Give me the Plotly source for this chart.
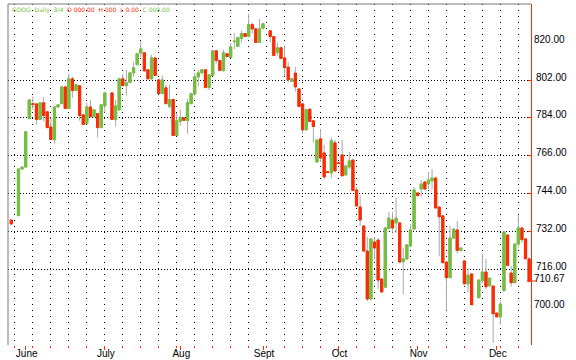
import pandas as pd
import plotly.graph_objects as go

# ---------------- data ----------------
HOLIDAYS = ["2006-05-29", "2006-07-04", "2006-09-04", "2006-11-23"]
session_days = [d for d in pd.bdate_range("2006-05-26", "2006-12-14")
                if d.strftime("%Y-%m-%d") not in HOLIDAYS]
dates = [d + pd.Timedelta(hours=12) for d in session_days]

open_ = [738.4, 740.4, 761.6, 762.5, 784.5, 791.3, 791.2, 784.1, 791.7, 787.6,
         780.7, 775.0, 789.8, 791.3, 798.9, 789.1, 802.6, 797.3, 799.4, 786.2,
         782.3, 789.8, 785.4, 786.8, 780.4, 790.4,
         796.2, 784.1, 788.5, 802.6, 799.5, 800.9, 805.3, 809.0, 814.3, 814.4,
         806.7, 802.6, 812.1, 802.1, 795.9, 798.5, 790.0, 793.2, 776.8, 783.2,
         784.8, 783.6, 791.3, 795.8, 803.5, 805.3, 806.7, 798.6, 804.1, 815.3,
         810.9, 806.4, 814.0, 812.3, 819.5, 817.3, 820.9, 823.2, 821.8, 827.3,
         825.3, 819.1, 825.5,
         824.4, 821.8, 814.6, 816.7, 812.1, 807.9, 801.4, 805.2, 798.0, 791.2,
         779.4, 788.8, 783.5, 764.8, 775.3, 768.9, 760.4, 759.8, 773.5, 764.4,
         768.0, 758.9, 762.5, 765.7, 752.1, 744.3, 735.7, 724.3, 702.5, 728.4,
         729.3, 711.6, 707.9, 734.5, 738.4, 737.1, 737.1, 719.5, 720.7, 726.6,
         734.3, 750.7, 752.5, 755.7, 754.8, 756.2, 757.5, 744.3, 740.3, 719.3,
         712.2, 730.2, 733.9, 724.5, 719.8, 709.4, 713.9,
         703.1, 711.0, 714.8, 708.5, 708.4, 696.1, 694.4, 706.3, 731.6, 714.3,
         709.9, 727.5, 734.8, 729.8, 720.7]
high = [738.6, 761.8, 762.7, 778.7, 793.2, 794.5, 791.4, 791.9, 794.3, 787.8,
        784.7, 790.0, 791.0, 799.1, 799.1, 804.9, 803.6, 800.1, 799.6, 786.4,
        791.8, 793.0, 788.7, 787.0, 791.0, 796.4,
        796.4, 793.0, 802.8, 804.9, 806.7, 805.5, 810.3, 814.2, 819.7, 814.6,
        806.9, 813.5, 812.3, 802.3, 804.1, 799.9, 799.9, 793.4, 787.1, 788.5,
        785.0, 793.5, 796.0, 805.3, 806.7, 806.9, 806.9, 804.6, 815.5, 815.5,
        811.1, 815.8, 814.2, 819.0, 823.4, 821.6, 824.6, 823.4, 832.2, 828.1,
        825.5, 829.9, 827.8,
        824.6, 822.0, 819.0, 816.9, 817.4, 810.3, 802.8, 808.0, 798.2, 791.4,
        788.8, 789.0, 783.7, 775.0, 779.8, 772.6, 760.6, 776.0, 774.8, 764.6,
        774.8, 763.2, 769.4, 765.9, 753.4, 749.8, 735.9, 730.7, 730.0, 730.7,
        730.2, 711.8, 735.0, 742.1, 742.1, 748.4, 737.3, 725.7, 727.3, 736.6,
        753.4, 750.9, 756.6, 755.9, 760.3, 761.6, 757.7, 744.5, 740.5, 719.5,
        735.7, 734.5, 738.0, 725.9, 720.0, 716.6, 714.1,
        711.3, 723.0, 720.7, 712.2, 708.6, 696.3, 702.0, 733.2, 731.8, 717.5,
        727.7, 740.8, 735.0, 730.0, 721.7]
low = [736.4, 740.2, 761.4, 762.3, 784.3, 788.5, 781.8, 783.9, 783.2, 780.2,
       774.8, 773.1, 789.6, 791.1, 788.9, 788.9, 793.9, 797.1, 783.6, 781.6,
       782.1, 785.2, 785.2, 775.9, 780.2, 787.3,
       783.9, 780.9, 788.3, 799.3, 795.0, 800.7, 803.6, 808.8, 812.5, 806.0,
       802.4, 802.4, 803.9, 795.7, 795.7, 791.1, 789.2, 776.6, 776.6, 781.2,
       783.5, 777.6, 791.1, 795.6, 799.1, 805.1, 798.4, 797.6, 803.9, 809.5,
       806.2, 805.8, 812.5, 812.1, 816.1, 817.1, 819.1, 821.6, 821.6, 823.2,
       818.9, 818.9, 825.3,
       819.1, 813.0, 813.1, 811.6, 803.9, 800.9, 801.2, 796.8, 789.8, 777.6,
       779.2, 783.0, 773.6, 764.6, 764.8, 756.9, 759.8, 757.5, 760.5, 763.9,
       758.3, 758.7, 761.6, 751.6, 744.6, 735.7, 724.1, 701.6, 702.3, 720.7,
       707.2, 705.5, 707.7, 734.3, 732.7, 732.7, 719.1, 704.7, 720.5, 726.4,
       734.1, 749.3, 748.9, 752.3, 752.5, 752.5, 743.7, 722.1, 718.8, 697.3,
       712.0, 730.0, 723.1, 724.3, 709.2, 705.4, 699.7,
       702.9, 709.8, 707.0, 708.3, 682.5, 694.2, 690.7, 706.1, 717.6, 708.1,
       709.7, 725.8, 728.1, 720.6, 709.9]
close = [736.6, 761.6, 762.5, 778.5, 793.0, 790.9, 784.1, 791.7, 785.9, 780.4,
         775.0, 789.8, 790.8, 798.9, 789.1, 802.6, 797.3, 799.9, 785.9, 781.8,
         789.8, 785.4, 788.5, 780.4, 790.8, 796.2,
         784.1, 790.3, 802.6, 799.5, 800.8, 805.3, 807.6, 814.0, 816.2, 806.2,
         802.6, 812.1, 804.1, 795.9, 802.1, 791.3, 793.2, 776.8, 783.5, 784.8,
         783.7, 791.7, 795.8, 803.5, 805.3, 806.7, 798.6, 804.4, 815.3, 810.9,
         806.4, 814.4, 812.7, 817.1, 819.7, 821.4, 823.2, 821.8, 827.3, 825.3,
         819.1, 825.3, 827.6,
         821.8, 813.2, 816.7, 811.8, 807.7, 802.1, 802.6, 798.9, 790.0, 779.4,
         788.6, 783.2, 780.9, 774.8, 766.6, 758.0, 760.0, 774.4, 760.7, 764.1,
         758.5, 763.0, 765.3, 751.8, 744.8, 738.4, 724.3, 702.5, 729.8, 725.7,
         711.1, 705.7, 734.8, 739.3, 734.8, 739.3, 719.3, 720.7, 727.1, 733.9,
         752.1, 749.5, 754.8, 752.5, 756.6, 757.5, 743.9, 739.9, 719.0, 712.2,
         730.2, 734.3, 724.6, 725.7, 709.4, 713.4, 699.9,
         711.1, 714.8, 708.1, 712.0, 695.8, 694.4, 700.2, 733.0, 717.8, 709.9,
         727.5, 734.8, 729.5, 720.8, 710.67]

month_ticks = ["2006-06-01 12:01", "2006-07-03 12:01", "2006-08-01 12:01",
               "2006-09-01 12:01", "2006-10-02 12:01", "2006-11-01 12:01",
               "2006-12-01 12:01"]
month_labels = ["June", "July", "Aug", "Sept", "Oct", "Nov", "Dec"]

grid_vals = [716.0, 733.2, 750.4, 767.6, 784.8, 802.0]
grid_labels = ["716.00", "732.00", "744.00", "766.00", "784.00", "802.00"]
edge_vals = [819.2, 698.8]
edge_labels = ["820.00", "700.00"]

legend_parts = [("GOOG  Daily  3/4", "green"), ("O 000.00  H 000  L 0.00", "red"),
                ("C 000.00", "green")]

# ---------------- style ----------------
GREEN = "#72c03c"
RED = "#ff2a00"
WICK = "#aaaaaa"
FRAME = "#7a7a7a"
Y_RANGE = [681.6, 836.6]
X_RANGE = ["2006-05-25 14:00", "2006-12-15 00:30"]

body_high = [max(o, c) for o, c in zip(open_, close)]
body_low = [min(o, c) for o, c in zip(open_, close)]

fig = go.Figure()
fig.add_trace(go.Candlestick(
    x=dates, open=open_, high=high, low=low, close=close,
    increasing=dict(line=dict(color=WICK, width=1), fillcolor=WICK),
    decreasing=dict(line=dict(color=WICK, width=1), fillcolor=WICK),
    hoverinfo="skip", showlegend=False))
fig.add_trace(go.Candlestick(
    x=dates, open=open_, high=body_high, low=body_low, close=close,
    increasing=dict(line=dict(color=GREEN, width=1), fillcolor=GREEN),
    decreasing=dict(line=dict(color=RED, width=1), fillcolor=RED),
    showlegend=False))
# invisible anchor so the secondary price axis (edge labels + last close) is drawn
fig.add_trace(go.Scatter(x=[dates[-1]], y=[close[-1]], yaxis="y2", mode="markers",
                         marker=dict(opacity=0), hoverinfo="skip", showlegend=False))

legend_html = "  ".join(
    f"<span style='color:{GREEN if c == 'green' else RED}'>{t}</span>"
    for t, c in legend_parts)

fig.update_layout(
    template="none",
    width=576, height=360,
    margin=dict(l=8, r=45, t=4, b=15, pad=0),
    paper_bgcolor="white", plot_bgcolor="white",
    showlegend=False,
    boxgap=0.39, boxgroupgap=0,
    font=dict(family="Liberation Sans, Arial, sans-serif", size=10, color="black"),
    xaxis=dict(
        type="date", range=X_RANGE,
        rangebreaks=[dict(bounds=["sat", "mon"])],
        rangeslider=dict(visible=False),
        tickmode="array", tickvals=month_ticks, ticktext=month_labels,
        ticks="outside", ticklen=4, tickwidth=1, tickcolor=RED,
        showgrid=False, showline=False, zeroline=False, automargin=False,
        ticklabelshift=1, ticklabelstandoff=-5,
        minor=dict(tickmode="linear", tick0="2006-05-29 12:00", dtick=7 * 86400000,
                   ticks="outside", ticklen=2, tickwidth=1, tickcolor=RED,
                   showgrid=True, gridcolor="black", gridwidth=1, griddash="1px,5px"),
    ),
    yaxis=dict(
        side="right", range=Y_RANGE,
        tickmode="array", tickvals=grid_vals, ticktext=grid_labels,
        ticks="inside", ticklen=3, tickwidth=1, tickcolor=RED,
        showline=True, linecolor=RED, linewidth=1,
        showgrid=True, gridcolor="black", gridwidth=1, griddash="1px,2px",
        zeroline=False, automargin=False, ticklabelshift=-3, ticklabelstandoff=2,
    ),
    yaxis2=dict(
        overlaying="y", side="right", range=Y_RANGE,
        tickmode="array", tickvals=edge_vals + [close[-1]],
        ticktext=edge_labels + [f"{close[-1]:.2f}"],
        ticks="", showgrid=False, showline=False, zeroline=False,
        automargin=False, ticklabelshift=-3, ticklabelstandoff=2,
    ),
    shapes=[
        dict(type="line", xref="paper", yref="paper", x0=0, x1=0, y0=0, y1=1,
             line=dict(color=FRAME, width=1)),
        dict(type="line", xref="paper", yref="paper", x0=0, x1=1, y0=1, y1=1,
             line=dict(color=FRAME, width=1)),
        dict(type="line", xref="paper", yref="y", x0=0.992, x1=1.0096,
             y0=close[-1], y1=close[-1], line=dict(color=RED, width=1)),
    ],
    annotations=[dict(text=legend_html, xref="paper", yref="paper", x=0.004, y=0.982,
                      xanchor="left", yanchor="middle", showarrow=False,
                      font=dict(size=6, family="DejaVu Sans"))],
)

fig.write_html("out.html", config={"displayModeBar": False},
               post_script="document.body.style.margin='0px';document.body.style.padding='0px';")
